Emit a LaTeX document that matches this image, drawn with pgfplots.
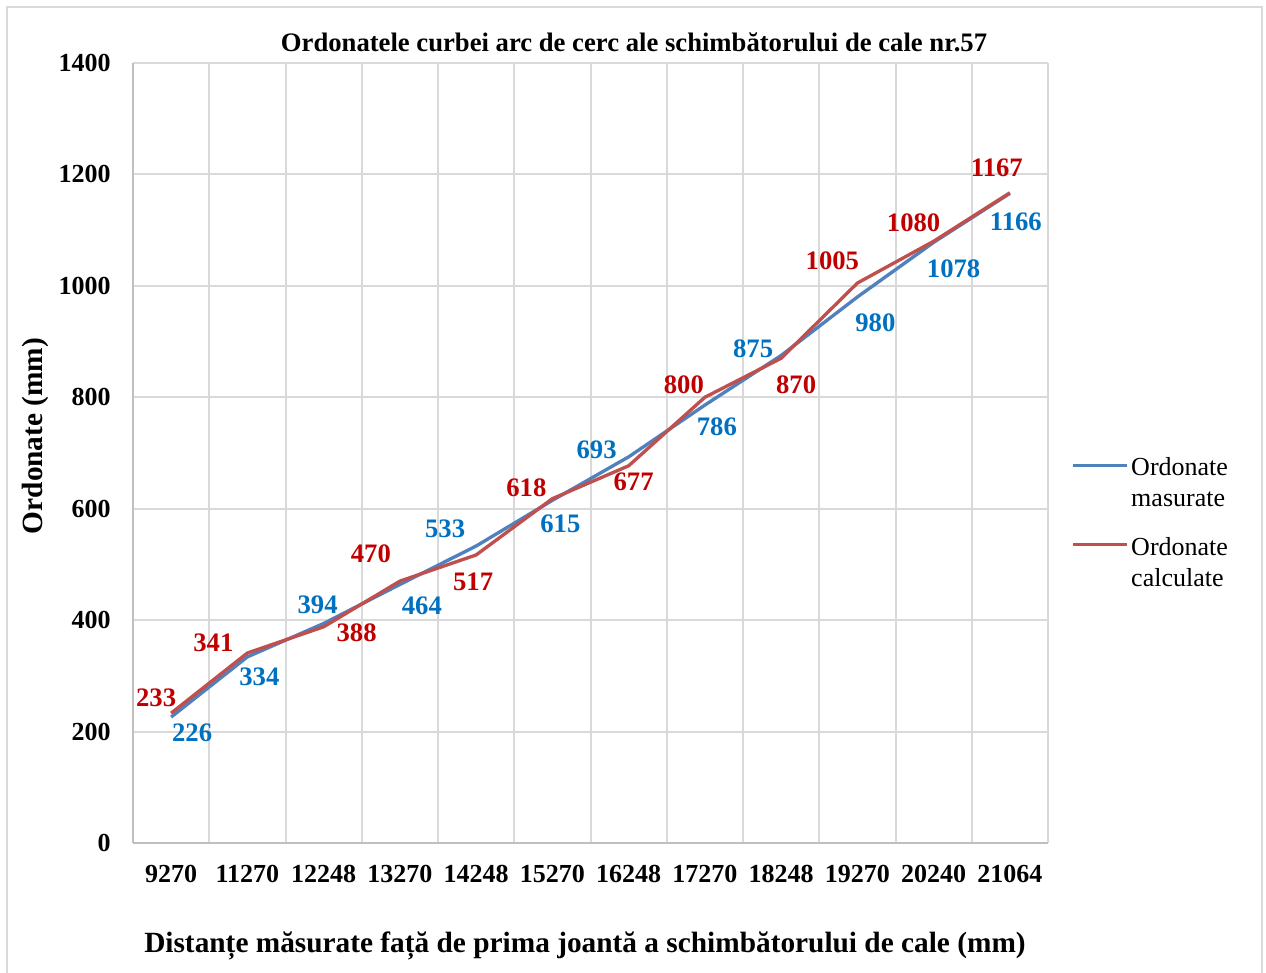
\documentclass[border=0pt]{standalone}
\usepackage{pgfplots}
\pgfplotsset{compat=1.18}
\usepackage{pgfplotstable}
\usepackage{fontspec}
\setmainfont{Liberation Serif}
\definecolor{gridgray}{HTML}{D9D9D9}
\definecolor{axisgray}{HTML}{BFBFBF}
\definecolor{lineblue}{HTML}{4F81BD}
\definecolor{linered}{HTML}{C0504D}
\definecolor{labblue}{HTML}{0070C0}
\definecolor{labred}{HTML}{C00000}
\newcommand{\bigfont}{\fontsize{19.5}{23.25}\selectfont}
\newcommand{\labfont}{\fontsize{20}{24}\selectfont}
\newcommand{\titfont}{\fontsize{20}{24}\selectfont}
\newcommand{\axtfont}{\fontsize{22}{26}\selectfont}

\pgfplotstableread{
x y dx dy
0 226 15.75 -12
1 334 9 -15
2 394 -4.5 14.25
3 464 16.5 -15.75
4 533 -23.25 12.75
5 615 6 -17.25
6 693 -24 5.25
7 786 9 -16.5
8 875 -21 5.25
9 980 13.5 -19.5
10 1078 15 -19.5
11 1166 4.5 -21
}\measured

\pgfplotstableread{
x y dx dy
0 233 -11.25 11.25
1 341 -25.5 7.5
2 388 24.75 -4.5
3 470 -21.75 20.25
4 517 -2.25 -20.25
5 618 -19.5 8.25
6 677 3.75 -12
7 800 -15.75 9.75
8 870 11.25 -19.5
9 1005 -18.75 16.5
10 1080 -15 14.25
11 1167 -9.75 18.75
}\calculated

\begin{document}
\begin{tikzpicture}
\useasboundingbox (-99.75pt,-97.5pt) rectangle (849.75pt,632.25pt);
\fill[white] (-99.75pt,-97.5pt) rectangle (849.75pt,632.25pt);
\draw[gridgray, line width=1.5pt] (-94.5pt,-110pt) rectangle (846.75pt,627pt);
\begin{axis}[
  at={(0pt,0pt)}, anchor=south west,
  scale only axis,
  width=686.25pt, height=585pt,
  xmin=-0.5, xmax=11.5,
  ymin=0, ymax=1400,
  ytick={0,200,...,1400},
  xtick={0,...,11},
  xticklabels={9270,11270,12248,13270,14248,15270,16248,17270,18248,19270,20240,21064},
  minor xtick={0.5,1.5,...,11.5},
  xminorgrids=true, ymajorgrids=true, xmajorgrids=false,
  grid style={gridgray, line width=1.5pt},
  minor grid style={gridgray, line width=1.5pt},
  major tick length=0pt, minor tick length=0pt,
  axis x line*=bottom, axis y line*=left,
  axis line style={axisgray, line width=1.5pt, -},
  /pgf/number format/assume math mode=true,
  /pgf/number format/1000 sep={},
  ticklabel style={font=\bigfont\bfseries, text=black},
  yticklabel style={anchor=east, inner sep=0pt, xshift=-16.5pt},
  xticklabel style={anchor=north, inner sep=0pt, yshift=-16.5pt},
  title={Ordonatele curbei arc de cerc ale schimbătorului de cale nr.57},
  title style={font=\titfont\bfseries, at={(rel axis cs:0.5475,1.00385)}, anchor=base, inner sep=0pt},
  xlabel={Distanțe măsurate față de prima joantă a schimbătorului de cale (mm)},
  xlabel style={font=\axtfont\bfseries, at={(rel axis cs:0.4940,-0.1410)}, anchor=base, inner sep=0pt},
  ylabel={Ordonate (mm)},
  ylabel style={font=\axtfont\bfseries, at={(rel axis cs:-0.1071,0.5218)}, anchor=center, inner sep=0pt},
  legend style={draw=none, fill=none, font=\bigfont, at={(rel axis cs:1.0251,0.4974)}, anchor=north west,
    cells={align=left}, row sep=17pt, inner sep=0pt},
  legend cell align=left,
  legend image code/.code={\draw[#1, line width=2.5pt] (0pt,13.5pt) -- (40.5pt,13.5pt);},
  clip=false,
]
\addplot[lineblue, line width=2.5pt, mark=none,
  nodes near coords, point meta=explicit symbolic,
  visualization depends on={\thisrow{dx}\as\dx},
  visualization depends on={\thisrow{dy}\as\dy},
  nodes near coords style={anchor=center, xshift=\dx*1pt, yshift=\dy*1pt, text=labblue, font=\labfont\bfseries, inner sep=0pt}]
  table[x=x, y=y, meta=y] {\measured};
\addlegendentry{Ordonate\\masurate}
\addplot[linered, line width=2.5pt, mark=none,
  nodes near coords, point meta=explicit symbolic,
  visualization depends on={\thisrow{dx}\as\dx},
  visualization depends on={\thisrow{dy}\as\dy},
  nodes near coords style={anchor=center, xshift=\dx*1pt, yshift=\dy*1pt, text=labred, font=\labfont\bfseries, inner sep=0pt}]
  table[x=x, y=y, meta=y] {\calculated};
\addlegendentry{Ordonate\\calculate}
\end{axis}
\end{tikzpicture}
\end{document}
